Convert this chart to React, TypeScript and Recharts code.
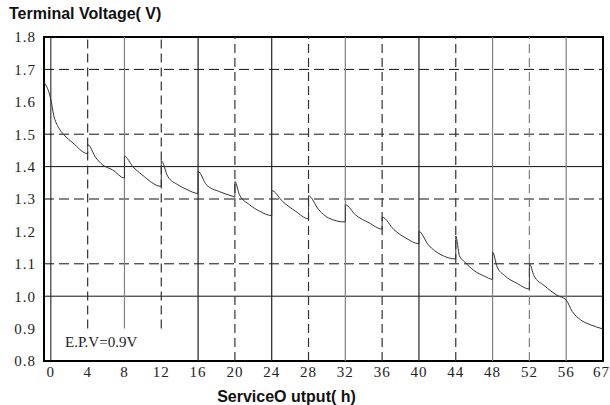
import { LineChart, Line, XAxis, YAxis, ReferenceLine, ReferenceArea } from "recharts";

// x axis labels (hours); the last step 56 -> 67 is drawn the same width as the others
const hourTicks = [0, 4, 8, 12, 16, 20, 24, 28, 32, 36, 40, 44, 48, 52, 56, 67];
const voltTicks = [0.8, 0.9, 1.0, 1.1, 1.2, 1.3, 1.4, 1.5, 1.6, 1.7, 1.8];
const solidVoltLines = [1.0, 1.4];
const dashedVoltLines = [1.1, 1.3, 1.5, 1.7];
const solidHourLines = [8, 16, 24, 32, 40, 48, 56];
const dashedHourLines = [4, 12, 20, 28, 36, 44, 52];
// lines that stop at 0.9 V to leave room for the E.P.V note
const shortHourLines = [4, 8, 12];

// discharge curve (a repeated hour = step up after a rest)
const hours = [
  -0.74, 0, 0.3, 0.85, 1.4, 2.4, 4,
  4, 4.9, 5.6, 6.7, 8,
  8, 8.9, 9.9, 12,
  12, 12.7, 13.8, 14.8, 16,
  16, 16.9, 18.3, 19.8, 20,
  20, 20.5, 21.6, 22.7, 24,
  24, 25.2, 26.6, 28,
  28, 29.1, 30.2, 32,
  32, 33.1, 34.6, 36,
  36, 37.3, 38.6, 40,
  40, 41, 42.4, 44,
  44, 44.4, 45, 46, 47.1, 48,
  48, 48.5, 49.3, 50.7, 52,
  52, 52.5, 53.6, 55, 56,
  57.8, 60.3, 63.2, 67,
];
const voltage = [
  1.66, 1.607, 1.56, 1.52, 1.499, 1.473, 1.44,
  1.468, 1.427, 1.406, 1.39, 1.365,
  1.432, 1.4, 1.375, 1.339,
  1.418, 1.37, 1.344, 1.329, 1.317,
  1.385, 1.344, 1.323, 1.308, 1.306,
  1.354, 1.313, 1.282, 1.262, 1.249,
  1.326, 1.292, 1.262, 1.239,
  1.31, 1.267, 1.241, 1.229,
  1.282, 1.251, 1.226, 1.207,
  1.244, 1.205, 1.179, 1.162,
  1.2, 1.159, 1.128, 1.115,
  1.186, 1.125, 1.105, 1.079, 1.062, 1.052,
  1.136, 1.09, 1.064, 1.039, 1.022,
  1.1, 1.063, 1.033, 1.003, 0.988,
  0.953, 0.927, 0.912, 0.899,
];

// map hours onto the evenly spaced tick slots
const toSlot = (h: number) => (h <= 56 ? h / 4 : 14 + (h - 56) / 11);

const X_MIN = -0.186;
const X_MAX = 15;

const serif = "'Liberation Serif', 'DejaVu Serif', serif";
const sans = "'Liberation Sans', Arial, sans-serif";

export default function App() {
  const data = hours.map((h, i) => ({ slot: toSlot(h), v: voltage[i] }));
  const grayLines = new Set([8, 32, 48, 52, 56]);

  return (
    <div style={{ position: "absolute", left: 0, top: 0, width: 610, height: 405, background: "#fff" }}>
      <div
        style={{
          position: "absolute",
          left: 9,
          top: 5,
          fontFamily: sans,
          fontWeight: "bold",
          fontSize: 16,
          color: "#111",
        }}
      >
        Terminal Voltage( V)
      </div>
      <LineChart width={610} height={405} data={data} margin={{ top: 37, right: 7, bottom: 14, left: 0 }}>
        <XAxis
          type="number"
          dataKey="slot"
          domain={[X_MIN, X_MAX]}
          allowDataOverflow
          ticks={hourTicks.map(toSlot)}
          tickFormatter={(s: number) => String(hourTicks[Math.round(s)])}
          axisLine={false}
          tickLine={false}
          height={30}
          tick={{ fontFamily: serif, fontSize: 15, fill: "#222", letterSpacing: 1, dy: -3 }}
        />
        <YAxis
          type="number"
          domain={[0.8, 1.8]}
          ticks={voltTicks}
          tickFormatter={(v: number) => v.toFixed(1)}
          axisLine={false}
          tickLine={false}
          width={44}
          interval={0}
          tick={{ fontFamily: serif, fontSize: 15, fill: "#222", letterSpacing: 1 }}
        />
        {solidVoltLines.map((v) => (
          <ReferenceLine key={"sv" + v} y={v} stroke="#111" strokeWidth={1} />
        ))}
        {dashedVoltLines.map((v) => (
          <ReferenceLine key={"dv" + v} y={v} stroke="#111" strokeWidth={1} strokeDasharray="10 5" />
        ))}
        <ReferenceLine x={0} stroke="#111" strokeWidth={1} />
        {solidHourLines.map((h) => (
          <ReferenceLine
            key={"sh" + h}
            segment={[
              { x: toSlot(h), y: shortHourLines.includes(h) ? 0.9 : 0.8 },
              { x: toSlot(h), y: 1.8 },
            ]}
            stroke={grayLines.has(h) ? "#808080" : "#222"}
            strokeWidth={1.2}
          />
        ))}
        {dashedHourLines.map((h) => (
          <ReferenceLine
            key={"dh" + h}
            segment={[
              { x: toSlot(h), y: shortHourLines.includes(h) ? 0.9 : 0.8 },
              { x: toSlot(h), y: 1.8 },
            ]}
            stroke={grayLines.has(h) ? "#808080" : "#333"}
            strokeWidth={1.2}
            strokeDasharray="9 5"
          />
        ))}
        <ReferenceArea
          x1={X_MIN}
          x2={X_MAX}
          y1={0.8}
          y2={1.8}
          fill="none"
          fillOpacity={0}
          stroke="#000"
          strokeWidth={2}
        />
        <Line
          type="monotone"
          dataKey="v"
          stroke="#333"
          strokeWidth={1}
          dot={false}
          isAnimationActive={false}
        />
      </LineChart>
      <div
        style={{
          position: "absolute",
          left: 65,
          top: 334,
          fontFamily: serif,
          fontSize: 15,
          color: "#222",
        }}
      >
        E.P.V=0.9V
      </div>
      <div
        style={{
          position: "absolute",
          left: 0,
          width: 573,
          top: 388,
          textAlign: "center",
          fontFamily: sans,
          fontWeight: "bold",
          fontSize: 16,
          color: "#111",
        }}
      >
        ServiceO utput( h)
      </div>
    </div>
  );
}
